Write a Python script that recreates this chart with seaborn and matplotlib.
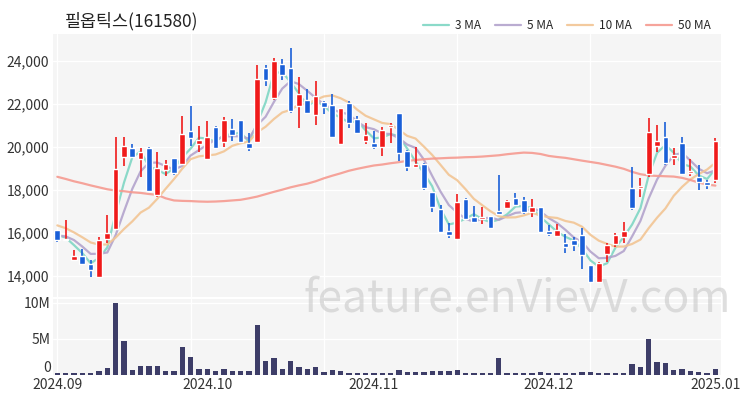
import numpy as np
import pandas as pd
import matplotlib
matplotlib.use("Agg")
import matplotlib.pyplot as plt
import seaborn as sns

# chart data
title = "필옵틱스(161580)"
tick_idx = [0, 18, 38, 59, 79]
tick_labels = ["2024.09", "2024.10", "2024.11", "2024.12", "2025.01"]

opens = [16120, 15650, 14740, 14940, 14540, 13940, 15740, 16200, 19540, 19940,
         19430, 19970, 17740, 18920, 19470, 19200, 20740, 20120, 19460, 20920,
         20240, 20810, 21230, 20180, 20230, 23660, 22270, 23860, 23660, 21890,
         22200, 21480, 22070, 21970, 20120, 22040, 21320, 20280, 20200, 20010,
         20940, 21560, 19830, 19080, 19210, 17880, 17100, 16110, 15700, 17560,
         16760, 16630, 16790, 17040, 17150, 17610, 17530, 16950, 17190, 16110,
         15860, 15550, 15670, 15910, 14510, 13740, 15020, 15490, 15830, 18080,
         18080, 18740, 20050, 20450, 19470, 20200, 18770, 18620, 18390, 18460]
highs = [16150, 16580, 15200, 15230, 14740, 15810, 16810, 20460, 20470, 20150,
         19940, 20000, 19740, 19380, 19500, 21430, 21890, 20970, 21200, 20950,
         21380, 21320, 21260, 20660, 23810, 23810, 24120, 24090, 24580, 23270,
         22700, 23070, 22120, 22460, 21810, 22120, 21430, 21120, 20720, 20940,
         21100, 21560, 19860, 20010, 19240, 17880, 17300, 16480, 17810, 17610,
         17250, 17190, 16790, 18700, 17530, 17840, 17660, 17560, 17220, 16370,
         16420, 15950, 15830, 16220, 14510, 14670, 15520, 16010, 16530, 19050,
         18540, 21330, 21020, 21180, 19940, 20450, 19430, 19160, 18460, 20400]
lows = [15580, 15630, 14690, 14500, 13970, 13940, 15540, 16200, 19120, 19500,
        18580, 17940, 17660, 18660, 18710, 19170, 20040, 19740, 19380, 19950,
        20000, 20280, 20220, 19810, 20230, 22810, 22200, 23120, 21580, 20860,
        21510, 21010, 21510, 20460, 20120, 20890, 20580, 20150, 19880, 19580,
        20170, 19360, 18900, 19080, 18000, 16990, 16010, 15750, 15700, 16630,
        16450, 16420, 16170, 16880, 17120, 17250, 16880, 16760, 16010, 15860,
        15830, 15080, 15180, 14310, 13660, 13740, 14670, 15360, 15550, 17070,
        17660, 18620, 19780, 19160, 19160, 18700, 18650, 18000, 18030, 18310]
closes = [15660, 15700, 14940, 14540, 14280, 15690, 16000, 18970, 20040, 19540,
          19780, 17970, 19040, 19200, 18770, 20580, 20400, 20300, 20460, 19970,
          21230, 20550, 20240, 19940, 23150, 23120, 24000, 23350, 21660, 22470,
          21580, 22350, 21840, 20460, 21810, 21120, 20660, 20550, 19980, 20790,
          21020, 19700, 19050, 19210, 18080, 17220, 16060, 15910, 17460, 16630,
          16530, 16760, 16220, 16880, 17500, 17300, 16950, 17190, 16060, 15950,
          16140, 15360, 15440, 14980, 13740, 14590, 15440, 15910, 16110, 17150,
          18190, 20710, 20280, 19270, 19630, 18730, 18900, 18390, 18230, 20290]
# volume in millions of shares
volumes = [0.3, 0.3, 0.3, 0.28, 0.28, 0.5, 1.0, 10.0, 4.7, 0.75,
           1.2, 1.2, 1.25, 0.5, 0.5, 3.9, 2.45, 0.9, 0.9, 0.5,
           0.9, 0.5, 0.5, 0.5, 7.0, 1.9, 2.3, 0.9, 2.0, 1.1,
           0.8, 1.15, 0.35, 0.75, 0.5, 0.32, 0.32, 0.32, 0.32, 0.32,
           0.32, 0.65, 0.35, 0.35, 0.45, 0.5, 0.5, 0.5, 0.65, 0.32,
           0.32, 0.3, 0.3, 2.3, 0.32, 0.32, 0.32, 0.32, 0.35, 0.32,
           0.32, 0.32, 0.3, 0.4, 0.4, 0.3, 0.3, 0.3, 0.3, 1.5,
           1.15, 4.95, 1.75, 1.6, 0.65, 0.8, 0.5, 0.4, 0.32, 0.8]
# closes before the window, needed for the short moving averages
prev_close = [17000, 16900, 16800, 16700, 16700, 15900, 15800, 16050, 15990]
# 50-day average
ma50 = [18610, 18510, 18400, 18310, 18210, 18120, 18030, 17970, 17940, 17890,
        17860, 17810, 17770, 17610, 17510, 17490, 17480, 17460, 17450, 17460,
        17480, 17510, 17540, 17610, 17690, 17800, 17910, 18010, 18120, 18210,
        18290, 18400, 18540, 18660, 18770, 18890, 18980, 19060, 19135, 19180,
        19240, 19290, 19350, 19390, 19425, 19455, 19470, 19490, 19500, 19520,
        19530, 19550, 19580, 19610, 19660, 19700, 19735, 19720, 19670, 19580,
        19530, 19490, 19425, 19360, 19300, 19240, 19160, 19080, 18980, 18840,
        18730, 18670, 18650, 18635, 18620, 18560, 18460, 18340, 18250, 18200]

df = pd.DataFrame({"open": opens, "high": highs, "low": lows,
                   "close": closes, "volume": volumes, "ma50": ma50})
df["idx"] = np.arange(len(df))
all_close = pd.Series(prev_close + closes)
n_prev = len(prev_close)
for w in (3, 5, 10):
    df[f"ma{w}"] = all_close.rolling(w).mean().iloc[n_prev:].values

sns.set_theme(style="white")
plt.rcParams["font.family"] = ["Noto Sans CJK KR", "DejaVu Sans"]

UP, DOWN = "#f01a1a", "#1a5fd8"
BG = "#f5f5f5"
ma_colors = {"3 MA": "#7fd6c4", "5 MA": "#b3a3cc", "10 MA": "#f2c594", "50 MA": "#f59a90"}

fig = plt.figure(figsize=(7.5, 4), dpi=100)
ax = fig.add_axes([0.0711, 0.2575, 0.8899, 0.6575])
axv = fig.add_axes([0.0711, 0.0625, 0.8899, 0.19])

for a in (ax, axv):
    a.set_facecolor(BG)
    for s in a.spines.values():
        s.set_visible(False)
    for k in (0, 16, 32, 48, 64):
        a.axvline(k, color="white", lw=0.9, zorder=0)

# moving averages
for w, name in zip(("ma3", "ma5", "ma10", "ma50"), ma_colors):
    sns.lineplot(data=df, x="idx", y=w, ax=ax, color=ma_colors[name],
                 lw=1.6, alpha=0.9, label=name, legend=False, zorder=2)

# candles
up = df["close"] >= df["open"]
colors = np.where(up, UP, DOWN)
ax.vlines(df["idx"], df["low"], df["high"], colors=colors, lw=1.2, zorder=3)
body_low = df[["open", "close"]].min(axis=1)
body_h = (df["close"] - df["open"]).abs().clip(lower=60)
ax.bar(df["idx"], body_h, bottom=body_low, width=0.68, color=colors, zorder=4)

ax.set_xlim(-0.48, 79.64)
ax.set_ylim(13020, 25250)
ax.set_yticks(range(14000, 24001, 2000))
ax.set_yticklabels([f"{v:,}" for v in range(14000, 24001, 2000)])
ax.set_xticks([])
ax.set_xlabel("")
ax.set_ylabel("")
for v in range(14000, 24001, 2000):
    ax.axhline(v, color="white", lw=1, zorder=0)
ax.tick_params(axis="y", length=0, labelsize=10, labelcolor="#333333", pad=3)

# volume
sns.barplot(data=df, x="idx", y="volume", ax=axv, native_scale=True,
            color="#3d3d68", saturation=1, width=0.64, errorbar=None,
            linewidth=0, zorder=3)
axv.set_xlim(-0.48, 79.64)
axv.set_ylim(0, 10.55)
axv.set_yticks([0, 5, 10])
axv.set_yticklabels(["0", "5M", "10M"])
for v in (5, 10):
    axv.axhline(v, color="white", lw=1, zorder=0)
axv.set_xticks(tick_idx)
axv.set_xticklabels(tick_labels)
axv.set_xlabel("")
axv.set_ylabel("")
axv.tick_params(length=0, labelsize=10, labelcolor="#333333", pad=2)
axv.tick_params(axis="x", pad=2.5)
# lift the zero label a touch so it clears the first date label
axv.get_yticklabels()[0].set_verticalalignment("bottom")

fig.text(0.087, 0.948, title, fontsize=12.5, color="#222222", va="center")
handles, labels = ax.get_legend_handles_labels()
fig.legend(handles, labels, loc="center right", bbox_to_anchor=(0.962, 0.937),
           ncol=4, frameon=False, fontsize=8.5, handlelength=2.2,
           columnspacing=1.2, handletextpad=0.5)

fig.text(0.69, 0.253, "feature.enVievV.com", fontsize=32, color="#c8c8c8",
         alpha=0.6, ha="center", va="center", zorder=10)

fig.savefig("out.png", dpi=100)
